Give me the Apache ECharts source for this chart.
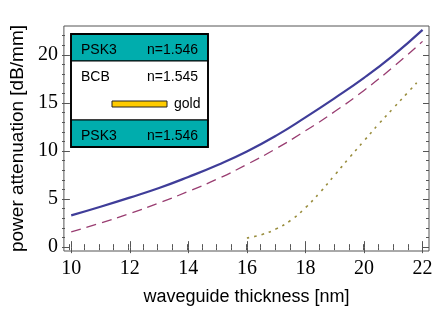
<!DOCTYPE html>
<html><head><meta charset="utf-8">
<script src="https://cdn.jsdelivr.net/npm/echarts@6/dist/echarts.min.js"></script>
<style>html,body{margin:0;padding:0;background:#fff}#c{width:436px;height:312px}</style>
</head><body><div id="c"></div>
<script>
// waveguide thickness [nm]
const thickness = [10, 11, 12, 13, 14, 15, 16, 17, 18, 19, 20, 21, 22];
// solid curve (power attenuation, dB/mm)
const solidLoss = [3.3, 4.2, 5.15, 6.15, 7.3, 8.55, 9.95, 11.6, 13.5, 15.5, 17.6, 19.95, 22.6];
// dashed curve
const dashedLoss = [1.6, 2.5, 3.5, 4.6, 5.8, 7.1, 8.6, 10.25, 12.1, 14.1, 16.3, 18.75, 21.4];
// dotted curve
const dottedThickness = [16, 16.5, 17, 17.5, 18, 18.5, 19, 19.5, 20, 20.5, 21, 21.5, 21.8];
const dottedLoss = [0.95, 1.3, 1.9, 2.8, 4.1, 5.7, 7.5, 9.3, 11.05, 12.8, 14.45, 16.1, 17.1];

const xTicks = [10, 12, 14, 16, 18, 20, 22];
const xMinorTicks = [10, 10.5, 11, 11.5, 12, 12.5, 13, 13.5, 14, 14.5, 15, 15.5, 16, 16.5, 17, 17.5, 18, 18.5, 19, 19.5, 20, 20.5, 21, 21.5, 22];
const yTicks = [0, 5, 10, 15, 20];
const yMinorTicks = [0, 1, 2, 3, 4, 5, 6, 7, 8, 9, 10, 11, 12, 13, 14, 15, 16, 17, 18, 19, 20, 21, 22];

const xTitle = 'waveguide thickness [nm]';
const yTitle = 'power attenuation [dB/mm]';

const X_MIN = 9.75, X_MAX = 22.22, Y_MIN = -0.4, Y_MAX = 23;
const FRAME = '#555';
const gridRect = { left: 62, right: 7, top: 26, bottom: 61 };

function pairs(xs, ys) { return xs.map((x, i) => [x, ys[i]]); }

function xAx(gridIndex, position, ticks, len, extra) {
  return Object.assign({
    type: 'value', gridIndex, position, min: X_MIN, max: X_MAX,
    axisLine: { show: false },
    axisTick: { show: true, inside: true, length: len, customValues: ticks, lineStyle: { color: FRAME, width: 1 } },
    axisLabel: { show: false },
    splitLine: { show: false }
  }, extra || {});
}
function yAx(gridIndex, position, ticks, len, extra) {
  return Object.assign({
    type: 'value', gridIndex, position, min: Y_MIN, max: Y_MAX,
    axisLine: { show: false },
    axisTick: { show: true, inside: true, length: len, customValues: ticks, lineStyle: { color: FRAME, width: 1 } },
    axisLabel: { show: false },
    splitLine: { show: false }
  }, extra || {});
}

const chart = echarts.init(document.getElementById('c'), null, { renderer: 'canvas' });

const teal = '#00adad';
const sans = '"Liberation Sans", Arial, sans-serif';
const serif = '"Liberation Serif", "Times New Roman", serif';
const lf = '14px ' + sans;

chart.setOption({
  animation: false,
  backgroundColor: '#fff',
  grid: [
    Object.assign({ show: true, borderColor: FRAME, borderWidth: 1, backgroundColor: 'transparent' }, gridRect),
    Object.assign({ show: false }, gridRect)
  ],
  xAxis: [
    xAx(0, 'bottom', xTicks, 6, {
      axisLabel: { show: true, customValues: xTicks, fontFamily: serif, fontSize: 20, color: '#000', margin: 8 },
      name: xTitle, nameLocation: 'middle', nameGap: 37,
      nameTextStyle: { fontFamily: sans, fontSize: 18, color: '#000' }
    }),
    xAx(0, 'top', xTicks, 6),
    xAx(1, 'bottom', xMinorTicks, 3),
    xAx(1, 'top', xMinorTicks, 3)
  ],
  yAxis: [
    yAx(0, 'left', yTicks, 6, {
      axisLabel: { show: true, customValues: yTicks, fontFamily: serif, fontSize: 20, color: '#000', margin: 6 },
      name: yTitle, nameLocation: 'middle', nameGap: 36, nameRotate: 90,
      nameTextStyle: { fontFamily: sans, fontSize: 19, color: '#000' }
    }),
    yAx(0, 'right', yTicks, 6),
    yAx(1, 'left', yMinorTicks, 3),
    yAx(1, 'right', yMinorTicks, 3)
  ],
  series: [
    {
      type: 'line', xAxisIndex: 0, yAxisIndex: 0, data: pairs(thickness, solidLoss),
      smooth: true, showSymbol: false, lineStyle: { color: '#3f3d99', width: 2.2 }
    },
    {
      type: 'line', xAxisIndex: 0, yAxisIndex: 0, data: pairs(thickness, dashedLoss),
      smooth: true, showSymbol: false, lineStyle: { color: '#993d71', width: 1.3, type: [10, 6] }
    },
    {
      type: 'line', xAxisIndex: 0, yAxisIndex: 0, data: pairs(dottedThickness, dottedLoss),
      smooth: true, showSymbol: false, lineStyle: { color: '#998d3d', width: 1.6, type: [2.5, 5] }
    }
  ],
  graphic: [
    { type: 'rect', shape: { x: 71, y: 34, width: 137, height: 27 }, style: { fill: teal, stroke: '#000', lineWidth: 1.2 } },
    { type: 'rect', shape: { x: 71, y: 61, width: 137, height: 59 }, style: { fill: '#fff', stroke: '#000', lineWidth: 1.2 } },
    { type: 'rect', shape: { x: 71, y: 120, width: 137, height: 27 }, style: { fill: teal, stroke: '#000', lineWidth: 1.2 } },
    { type: 'rect', shape: { x: 71, y: 34, width: 137, height: 113 }, style: { fill: 'none', stroke: '#000', lineWidth: 1.8 } },
    { type: 'text', x: 81, y: 50, style: { text: 'PSK3', font: lf, fill: '#000', textAlign: 'left', textVerticalAlign: 'middle' } },
    { type: 'text', x: 198, y: 50, style: { text: 'n=1.546', font: lf, fill: '#000', textAlign: 'right', textVerticalAlign: 'middle' } },
    { type: 'text', x: 81, y: 77, style: { text: 'BCB', font: lf, fill: '#000', textAlign: 'left', textVerticalAlign: 'middle' } },
    { type: 'text', x: 198, y: 77, style: { text: 'n=1.545', font: lf, fill: '#000', textAlign: 'right', textVerticalAlign: 'middle' } },
    { type: 'rect', shape: { x: 112, y: 101, width: 55, height: 6 }, style: { fill: '#ffcc00', stroke: '#222', lineWidth: 1 } },
    { type: 'text', x: 174, y: 104, style: { text: 'gold', font: lf, fill: '#000', textAlign: 'left', textVerticalAlign: 'middle' } },
    { type: 'text', x: 81, y: 136, style: { text: 'PSK3', font: lf, fill: '#000', textAlign: 'left', textVerticalAlign: 'middle' } },
    { type: 'text', x: 198, y: 136, style: { text: 'n=1.546', font: lf, fill: '#000', textAlign: 'right', textVerticalAlign: 'middle' } }
  ]
});
</script>
</body></html>
